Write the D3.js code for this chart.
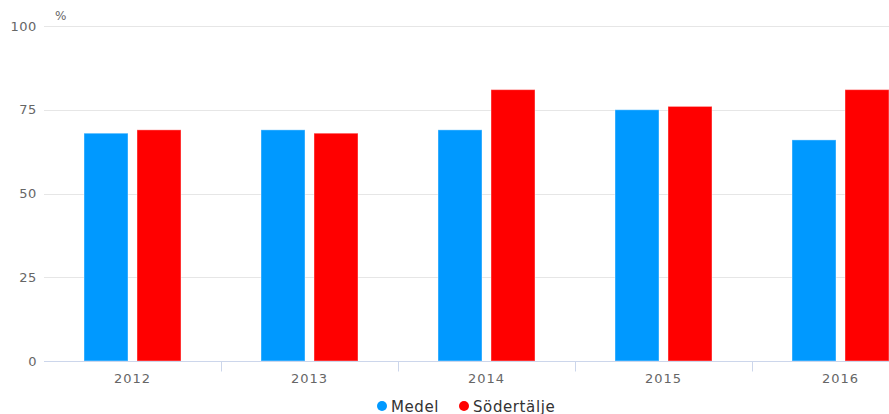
<!DOCTYPE html>
<html>
<head>
<meta charset="utf-8">
<script src="https://cdn.jsdelivr.net/npm/d3@7"></script>
<style>
  body { margin: 0; background: #fff; }
  svg { display: block; font-family: "DejaVu Sans", sans-serif; }
</style>
</head>
<body>
<script>
var years = ["2012", "2013", "2014", "2015", "2016"];
var seriesNames = ["Medel", "Södertälje"];
var medel = [68, 69, 69, 75, 66];
var sodertalje = [69, 68, 81, 76, 81];
var yTicks = [0, 25, 50, 75, 100];
var colors = ["#0099ff", "#ff0000"];

var width = 889, height = 414;
var margins = { top: 26, bottom: 53, left: 44, right: -40 };
var groupWidth = 97;

var svg = d3.select("body").append("svg")
    .attr("width", width)
    .attr("height", height);

var x = d3.scaleBand()
    .domain(years)
    .range([margins.left, width - margins.right]);

var inner = d3.scaleBand()
    .domain(seriesNames)
    .range([0, groupWidth])
    .paddingInner(0.17);

var y = d3.scaleLinear()
    .domain([0, 100])
    .range([height - margins.bottom, margins.top]);

// gridlines
svg.append("g")
    .selectAll("line")
    .data(yTicks.slice(1))
    .enter().append("line")
    .attr("x1", margins.left)
    .attr("x2", width)
    .attr("y1", d => Math.round(y(d)) + 0.5)
    .attr("y2", d => Math.round(y(d)) + 0.5)
    .attr("stroke", "#e6e6e6");

// y labels
svg.append("g")
    .selectAll("text")
    .data(yTicks)
    .enter().append("text")
    .attr("x", 37)
    .attr("y", d => y(d) + 4.5)
    .attr("text-anchor", "end")
    .attr("fill", "#666")
    .style("font-size", "13px")
    .style("letter-spacing", "0.6px")
    .text(d => d);

svg.append("text")
    .attr("x", 55)
    .attr("y", 20)
    .attr("fill", "#666")
    .style("font-size", "12px")
    .text("%");

// bars
var data = years.map((yr, i) => ({ year: yr, values: [medel[i], sodertalje[i]] }));
var groups = svg.append("g")
    .selectAll("g")
    .data(data)
    .enter().append("g")
    .attr("transform", d => "translate(" + (x(d.year) + (x.bandwidth() - groupWidth) / 2) + ",0)");

groups.selectAll("rect")
    .data(d => d.values.map((v, j) => ({ name: seriesNames[j], value: v, color: colors[j] })))
    .enter().append("rect")
    .attr("x", d => inner(d.name))
    .attr("y", d => y(d.value))
    .attr("width", inner.bandwidth())
    .attr("height", d => y(0) - y(d.value))
    .attr("fill", d => d.color)
    .attr("stroke", "#fff")
    .attr("stroke-opacity", 0.4)
    .attr("stroke-width", 1);

// x axis line and ticks
var base = Math.round(y(0)) + 0.5;
svg.append("line")
    .attr("x1", margins.left)
    .attr("x2", width)
    .attr("y1", base)
    .attr("y2", base)
    .attr("stroke", "#ccd6eb");

svg.append("g")
    .selectAll("line")
    .data(years.slice(1))
    .enter().append("line")
    .attr("x1", d => Math.round(x(d)) + 0.5)
    .attr("x2", d => Math.round(x(d)) + 0.5)
    .attr("y1", base)
    .attr("y2", base + 10)
    .attr("stroke", "#ccd6eb");

svg.append("g")
    .selectAll("text")
    .data(years)
    .enter().append("text")
    .attr("x", d => x(d) + x.bandwidth() / 2)
    .attr("y", base + 21)
    .attr("text-anchor", "middle")
    .attr("fill", "#666")
    .style("font-size", "13px")
    .style("letter-spacing", "1px")
    .text(d => d);

// legend
var legendX = [382, 464];
var legend = svg.append("g")
    .selectAll("g")
    .data(seriesNames)
    .enter().append("g")
    .attr("transform", (d, i) => "translate(" + legendX[i] + ",406)");

legend.append("circle")
    .attr("r", 5)
    .attr("fill", (d, i) => colors[i]);

legend.append("text")
    .attr("x", 9)
    .attr("y", 5.5)
    .attr("fill", "#333")
    .style("font-size", "15px")
    .style("letter-spacing", "0.6px")
    .text(d => d);
</script>
</body>
</html>
